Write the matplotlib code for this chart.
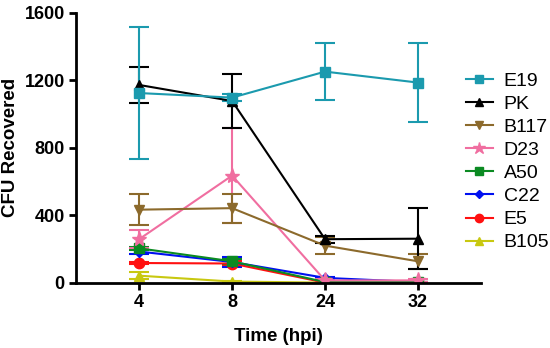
import matplotlib
matplotlib.use("Agg")
import matplotlib.pyplot as plt
from matplotlib.lines import Line2D
import numpy as np

plt.rcParams['font.family'] = ['Liberation Sans', 'DejaVu Sans']

times = ['4', '8', '24', '32']
strains = ['E19', 'PK', 'B117', 'D23', 'A50', 'C22', 'E5', 'B105']

means = {
    'E19': [1125, 1098, 1252, 1187],
    'PK': [1173, 1078, 259, 262],
    'B117': [434, 443, 221, 128],
    'D23': [259, 636, 15, 15],
    'A50': [205, 128, 5, 5],
    'C22': [186, 124, 30, 5],
    'E5': [118, 115, 2, 2],
    'B105': [43, 8, 2, 2],
}
errors = {
    'E19': [390, 20, 168, 236],
    'PK': [108, 160, 20, 180],
    'B117': [90, 85, 50, 45],
    'D23': [55, 283, 8, 8],
    'A50': [10, 15, 3, 3],
    'C22': [15, 30, 8, 3],
    'E5': [8, 12, 2, 2],
    'B105': [22, 5, 2, 2],
}

colors = {
    'E19': '#1b9aae', 'PK': '#000000', 'B117': '#8c6a2c', 'D23': '#f06ea0',
    'A50': '#0b8a22', 'C22': '#0010f0', 'E5': '#ff1010', 'B105': '#c8c810',
}
markers = {
    'E19': 's', 'PK': '^', 'B117': 'v', 'D23': '*',
    'A50': 's', 'C22': 'D', 'E5': 'o', 'B105': '^',
}
msizes = {
    'E19': 7.5, 'PK': 7.5, 'B117': 6.5, 'D23': 11,
    'A50': 7, 'C22': 5.5, 'E5': 7.5, 'B105': 7,
}

fig = plt.figure(figsize=(5.5, 3.48), dpi=100)
ax = fig.add_axes([0.138, 0.187, 0.737, 0.776])

x = np.arange(len(times))
# draw in reverse so E19 ends on top
for name in reversed(strains):
    ax.errorbar(x, means[name], yerr=errors[name], color=colors[name],
                marker=markers[name], markersize=msizes[name], linewidth=1.5,
                elinewidth=1.5, capsize=7, capthick=1.5)

ax.set_xlim(-0.68, 3.68)
ax.set_ylim(0, 1600)
ax.set_xticks(x)
ax.set_xticklabels(times)
ax.set_yticks([0, 400, 800, 1200, 1600])
for lab in ax.get_xticklabels() + ax.get_yticklabels():
    lab.set_fontweight('bold')
    lab.set_fontsize(13)
ax.tick_params(direction='out', width=2, length=5, pad=3)

ax.spines['top'].set_visible(False)
ax.spines['right'].set_visible(False)
ax.spines['left'].set_linewidth(2)
ax.spines['bottom'].set_linewidth(2)

ax.set_xlabel('Time (hpi)', fontsize=13.5, fontweight='bold', labelpad=12)
ax.set_ylabel('CFU Recovered', fontsize=13.5, fontweight='bold', labelpad=4)

handles = [Line2D([], [], color=colors[s], marker=markers[s],
                  markersize=msizes[s] * 0.8, linewidth=1.5) for s in strains]
fig.legend(handles, strains, loc='upper left', bbox_to_anchor=(0.847, 0.792),
           frameon=False, fontsize=14, handlelength=1.4, handletextpad=0.55,
           labelspacing=0.28, borderaxespad=0, borderpad=0)

fig.savefig('out.png', dpi=100)
